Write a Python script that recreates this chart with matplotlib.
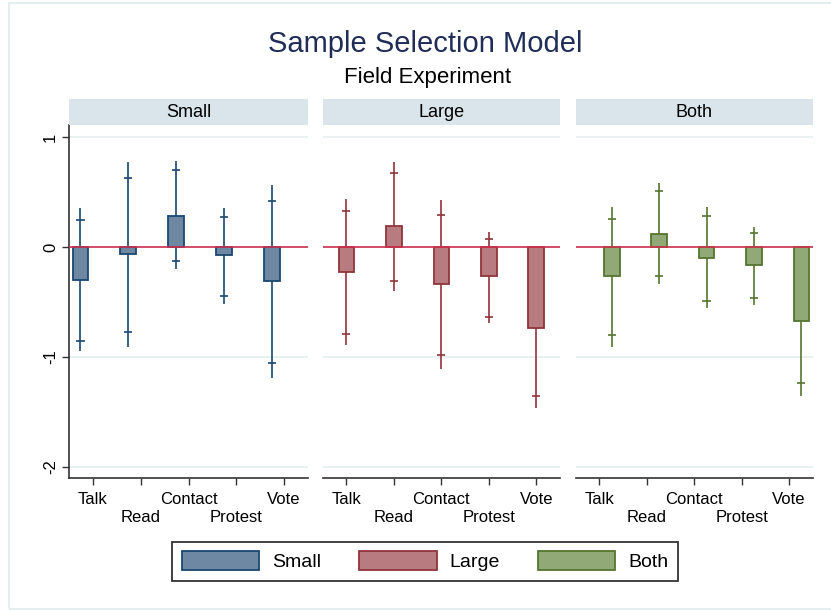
import matplotlib
matplotlib.use("Agg")
import matplotlib.pyplot as plt
from matplotlib.patches import Patch, Rectangle
import numpy as np

plt.rcParams['font.family'] = ['Liberation Sans', 'DejaVu Sans']

categories = ['Talk', 'Read', 'Contact', 'Protest', 'Vote']
groups = ['Small', 'Large', 'Both']

est_small = [-0.300, -0.067, 0.286, -0.076, -0.310]
lo90_small = [-0.857, -0.772, -0.128, -0.444, -1.058]
hi90_small = [0.243, 0.632, 0.699, 0.274, 0.422]
lo95_small = [-0.948, -0.906, -0.195, -0.514, -1.190]
hi95_small = [0.353, 0.775, 0.787, 0.353, 0.565]

est_large = [-0.225, 0.191, -0.340, -0.267, -0.733]
lo90_large = [-0.793, -0.310, -0.985, -0.638, -1.356]
hi90_large = [0.328, 0.675, 0.295, 0.073, -0.110]
lo95_large = [-0.894, -0.395, -1.106, -0.693, -1.465]
hi95_large = [0.435, 0.772, 0.426, 0.140, 0.000]

est_both = [-0.267, 0.116, -0.097, -0.161, -0.669]
lo90_both = [-0.802, -0.264, -0.486, -0.465, -1.237]
hi90_both = [0.252, 0.508, 0.286, 0.128, -0.140]
lo95_both = [-0.906, -0.334, -0.556, -0.523, -1.350]
hi95_both = [0.362, 0.584, 0.362, 0.182, -0.030]

yticks = [1, 0, -1, -2]

data = {
    'Small': (est_small, lo90_small, hi90_small, lo95_small, hi95_small),
    'Large': (est_large, lo90_large, hi90_large, lo95_large, hi95_large),
    'Both': (est_both, lo90_both, hi90_both, lo95_both, hi95_both),
}
fills = {'Small': '#6e88a3', 'Large': '#b87b7f', 'Both': '#91a877'}
edges = {'Small': '#1a476f', 'Large': '#90353b', 'Both': '#55752f'}
offsets = {'Small': -0.26, 'Large': 0.0, 'Both': 0.26}

W, H = 831, 610
fig = plt.figure(figsize=(W / 100, H / 100), dpi=100)
fig.patch.set_facecolor('white')

# outer light frame
fig.patches.append(Rectangle((9 / W, 1 - 609 / H), 1.0, (609 - 3) / H,
                             transform=fig.transFigure, fill=False,
                             edgecolor='#e4eef0', lw=1.5, zorder=0))

lefts = [69 / W, 322.7 / W, 575.7 / W]
widths = [239 / W, 237.3 / W, 237 / W]
bottom = 1 - 478 / H
top = 1 - 125 / H
height = top - bottom
strip_h = 26 / H

x = np.arange(1, len(categories) + 1)
major_idx = [0, 2, 4]
minor_idx = [1, 3]

for i, g in enumerate(groups):
    ax = fig.add_axes([lefts[i], bottom, widths[i], height])
    est, lo90, hi90, lo95, hi95 = data[g]
    xp = x + offsets[g]
    ax.set_xlim(0.5, 5.5)
    ax.set_ylim(-2.1, 1.11)
    for yv in yticks:
        ax.axhline(yv, color='#e6eff1', lw=1.2, zorder=0)
    ax.vlines(xp, lo95, hi95, color=edges[g], lw=1.2, zorder=1)
    cw = 0.085
    ax.hlines(lo90, xp - cw, xp + cw, color=edges[g], lw=1.2, zorder=1)
    ax.hlines(hi90, xp - cw, xp + cw, color=edges[g], lw=1.2, zorder=1)
    ax.bar(xp, est, width=0.33, color=fills[g], edgecolor=edges[g],
           linewidth=1.3, zorder=2)
    ax.axhline(0, color='#d0304f', lw=1.2, zorder=3)

    for s in ['top', 'right']:
        ax.spines[s].set_visible(False)
    ax.spines['bottom'].set_color('#333333')
    ax.spines['bottom'].set_linewidth(1.2)
    ax.set_xticks([x[k] for k in major_idx])
    ax.set_xticklabels([categories[k] for k in major_idx], fontsize=12)
    ax.set_xticks([x[k] for k in minor_idx], minor=True)
    ax.set_xticklabels([categories[k] for k in minor_idx], minor=True,
                       fontsize=12)
    ax.tick_params(axis='x', which='major', length=5, width=1,
                   color='#333333', pad=5)
    ax.tick_params(axis='x', which='minor', length=5, width=1,
                   color='#333333', pad=18)
    ax.set_yticks(yticks)
    if i == 0:
        ax.spines['left'].set_color('#333333')
        ax.spines['left'].set_linewidth(1.2)
        ax.set_yticklabels([str(v) for v in yticks], rotation=90,
                           va='center', fontsize=12)
        ax.tick_params(axis='y', length=5, width=1, color='#333333', pad=3)
    else:
        ax.spines['left'].set_visible(False)
        ax.tick_params(axis='y', length=0, labelleft=False)

    # strip
    fig.patches.append(Rectangle((lefts[i], top), widths[i], strip_h,
                                 transform=fig.transFigure,
                                 facecolor='#d9e5ea', edgecolor='none'))
    fig.text(lefts[i] + widths[i] / 2, top + strip_h / 2, g,
             ha='center', va='center', fontsize=13, color='black')

fig.text(0.512, 1 - 51.5 / H, 'Sample Selection Model', ha='center',
         va='baseline', fontsize=21, color='#1f2d57')
fig.text(0.514, 1 - 83 / H, 'Field Experiment', ha='center',
         va='baseline', fontsize=16, color='black')

handles = [Patch(facecolor=fills[g], edgecolor=edges[g], linewidth=1.3,
                 label=g) for g in groups]
leg = fig.legend(handles=handles, loc='center', ncol=3,
                 bbox_to_anchor=(425.2 / W, 1 - 561.4 / H), fontsize=14,
                 frameon=True, fancybox=False, edgecolor='black',
                 handlelength=3.97, handleheight=1.08, handletextpad=0.67,
                 columnspacing=1.95, borderpad=0.5)
leg.get_frame().set_linewidth(1.3)

fig.savefig('out.png', dpi=100)
